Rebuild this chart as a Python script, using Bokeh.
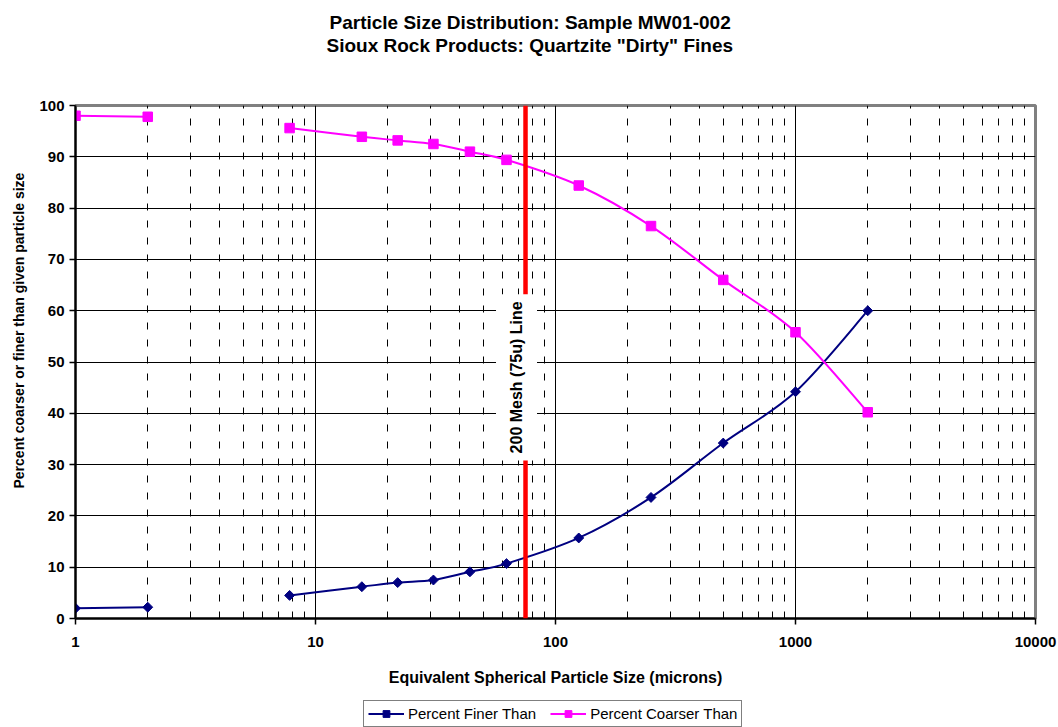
import numpy as np
from bokeh.plotting import figure
from bokeh.layouts import column
from bokeh.models import (Label, Legend, LegendItem, FixedTicker, SingleIntervalTicker,
                          BasicTickFormatter, Range1d, Span, ColumnDataSource, Title)
from bokeh.embed import file_html
from bokeh.resources import INLINE

FONT = "Liberation Sans"

# Sieve / sedigraph sizes (microns) and cumulative percentages
size_um = [1, 2, 7.8, 15.6, 22, 31, 44, 62.5, 125, 250, 500, 1000, 2000]
pct_finer = [2.0, 2.2, 4.5, 6.2, 7.0, 7.5, 9.1, 10.7, 15.7, 23.6, 34.2, 44.2, 60.0]
pct_coarser = [98.0, 97.8, 95.6, 93.9, 93.2, 92.5, 91.0, 89.4, 84.4, 76.5, 66.0, 55.8, 40.2]

# measurements come in two runs with no data between 2 and 7.8 microns
fine_run = slice(0, 2)
sieve_run = slice(2, 13)

mesh_200_um = 75
x_ticks = [1, 10, 100, 1000, 10000]
x_minor = [k * 10 ** d for d in range(4) for k in range(2, 10)]

title_lines = ["Particle Size Distribution: Sample MW01-002",
               'Sioux Rock Products: Quartzite "Dirty" Fines']
series_names = ["Percent Finer Than", "Percent Coarser Than"]

NAVY = "#000080"
MAGENTA = "#FF00FF"


def smooth_segments(xs, ys):
    """Cubic Bezier pieces through the points (Catmull-Rom in log-x space)."""
    lx = np.log10(np.asarray(xs, dtype=float))
    y = np.asarray(ys, dtype=float)
    n = len(lx)
    out = {k: [] for k in ("x0", "y0", "x1", "y1", "cx0", "cy0", "cx1", "cy1")}
    for i in range(n - 1):
        a = i - 1 if i > 0 else i
        b = i + 2 if i + 2 < n else i + 1
        out["x0"].append(10 ** lx[i]); out["y0"].append(y[i])
        out["x1"].append(10 ** lx[i + 1]); out["y1"].append(y[i + 1])
        out["cx0"].append(10 ** (lx[i] + (lx[i + 1] - lx[a]) / 6))
        out["cy0"].append(y[i] + (y[i + 1] - y[a]) / 6)
        out["cx1"].append(10 ** (lx[i + 1] - (lx[b] - lx[i]) / 6))
        out["cy1"].append(y[i + 1] - (y[b] - y[i]) / 6)
    return ColumnDataSource(out)


p = figure(width=1058, height=700, x_axis_type="log",
           x_range=Range1d(1, 10000), y_range=Range1d(0, 100),
           output_backend="svg", toolbar_location=None, title=None,
           min_border_left=74, min_border_right=23,
           min_border_top=105, min_border_bottom=82)
p.background_fill_color = "white"
p.border_fill_color = "white"
p.outline_line_color = "#808080"
p.outline_line_width = 3

# axes
xt = FixedTicker(ticks=x_ticks, minor_ticks=x_minor)
p.xaxis.ticker = xt
p.xaxis.formatter = BasicTickFormatter()
yt = SingleIntervalTicker(interval=10)
p.yaxis.ticker = yt
for ax in (p.xaxis[0], p.yaxis[0]):
    ax.axis_line_color = "black"
    ax.axis_line_width = 2
    ax.major_tick_line_color = "black"
    ax.major_tick_line_width = 1.5
    ax.major_tick_out = 6
    ax.major_tick_in = 0
    ax.minor_tick_line_color = None
    ax.major_label_text_font = FONT
    ax.major_label_text_font_style = "bold"
    ax.major_label_text_font_size = "15px"
    ax.major_label_text_color = "black"
    ax.axis_label_text_font = FONT
    ax.axis_label_text_font_style = "bold"
    ax.axis_label_text_color = "black"

p.xaxis.axis_label = "Equivalent Spherical Particle Size (microns)"
p.xaxis.axis_label_text_font_size = "16px"
p.xaxis.major_label_standoff = 12
p.xaxis.axis_label_standoff = 19
p.yaxis.major_label_standoff = 5

# y-axis caption, set a little below the middle of the axis
p.add_layout(Title(text="Percent coarser or finer than given particle size",
                   align="left", offset=130, standoff=18, vertical_align="middle",
                   text_font=FONT, text_font_style="bold", text_font_size="14px",
                   text_color="black"), "left")

# grid
p.xgrid.ticker = xt
p.xgrid.grid_line_color = "black"
p.xgrid.grid_line_width = 1
p.xgrid.minor_grid_line_color = "black"
p.xgrid.minor_grid_line_width = 1
p.xgrid.minor_grid_line_dash = "7 10"
p.ygrid.ticker = yt
p.ygrid.grid_line_color = "black"
p.ygrid.grid_line_width = 1

# Percent finer than
p.line(size_um[fine_run], pct_finer[fine_run], line_color=NAVY, line_width=2)
p.bezier(source=smooth_segments(size_um[sieve_run], pct_finer[sieve_run]),
         x0="x0", y0="y0", x1="x1", y1="y1", cx0="cx0", cy0="cy0", cx1="cx1", cy1="cy1",
         line_color=NAVY, line_width=2)
p.scatter(size_um, pct_finer, marker="square", angle=np.pi / 4, size=7,
          fill_color=NAVY, line_color=NAVY)

# Percent coarser than
p.line(size_um[fine_run], pct_coarser[fine_run], line_color=MAGENTA, line_width=2)
p.bezier(source=smooth_segments(size_um[sieve_run], pct_coarser[sieve_run]),
         x0="x0", y0="y0", x1="x1", y1="y1", cx0="cx0", cy0="cy0", cx1="cx1", cy1="cy1",
         line_color=MAGENTA, line_width=2)
p.scatter(size_um, pct_coarser, marker="square", size=9.5,
          fill_color=MAGENTA, line_color=MAGENTA)

# 200 mesh marker
p.add_layout(Span(location=mesh_200_um, dimension="height", line_color="red", line_width=4.5))
p.add_layout(Label(x=mesh_200_um, y=47, x_offset=-9, angle=np.pi / 2,
                   text="200 Mesh (75u) Line", text_align="center", text_baseline="middle",
                   text_font=FONT, text_font_style="bold", text_font_size="16px",
                   text_color="black", background_fill_color="white", padding=(7, 12)))

# two-line title; a blank title keeps the gap above the plot area
p.add_layout(Title(text=" ", text_font_size="42px", standoff=0), "above")
p.add_layout(Title(text=title_lines[1], align="left", offset=251, standoff=0,
                   vertical_align="middle", text_font=FONT, text_font_style="bold",
                   text_font_size="19px", text_color="black"), "above")
p.add_layout(Title(text=title_lines[0], align="left", offset=254, standoff=0,
                   vertical_align="middle", text_font=FONT, text_font_style="bold",
                   text_font_size="19px", text_color="black"), "above")

# legend strip under the chart
leg = figure(width=1058, height=27, x_range=Range1d(0, 1), y_range=Range1d(0, 1),
             output_backend="svg", toolbar_location=None,
             x_axis_location=None, y_axis_location=None, min_border=0)
leg.outline_line_color = None
leg.grid.grid_line_color = None
lf = leg.line([-2, -1], [-2, -1], line_color=NAVY, line_width=2)
sf = leg.scatter([-2], [-2], marker="square", angle=np.pi / 4, size=7,
                 fill_color=NAVY, line_color=NAVY)
lc = leg.line([-2, -1], [-2, -1], line_color=MAGENTA, line_width=2)
sc = leg.scatter([-2], [-2], marker="square", size=9.5, fill_color=MAGENTA, line_color=MAGENTA)
legend = Legend(items=[LegendItem(label=series_names[0], renderers=[lf, sf]),
                       LegendItem(label=series_names[1], renderers=[lc, sc])],
                orientation="horizontal", location=(288, 0),
                glyph_width=36, glyph_height=17, label_height=17, label_standoff=4, spacing=14,
                padding=4, margin=0, border_line_color="black", border_line_width=1,
                label_text_font=FONT, label_text_font_size="15px", label_text_color="black",
                background_fill_color="white", background_fill_alpha=1)
leg.add_layout(legend, "center")

open("out.html", "w").write(file_html(column(p, leg, spacing=0), INLINE))
